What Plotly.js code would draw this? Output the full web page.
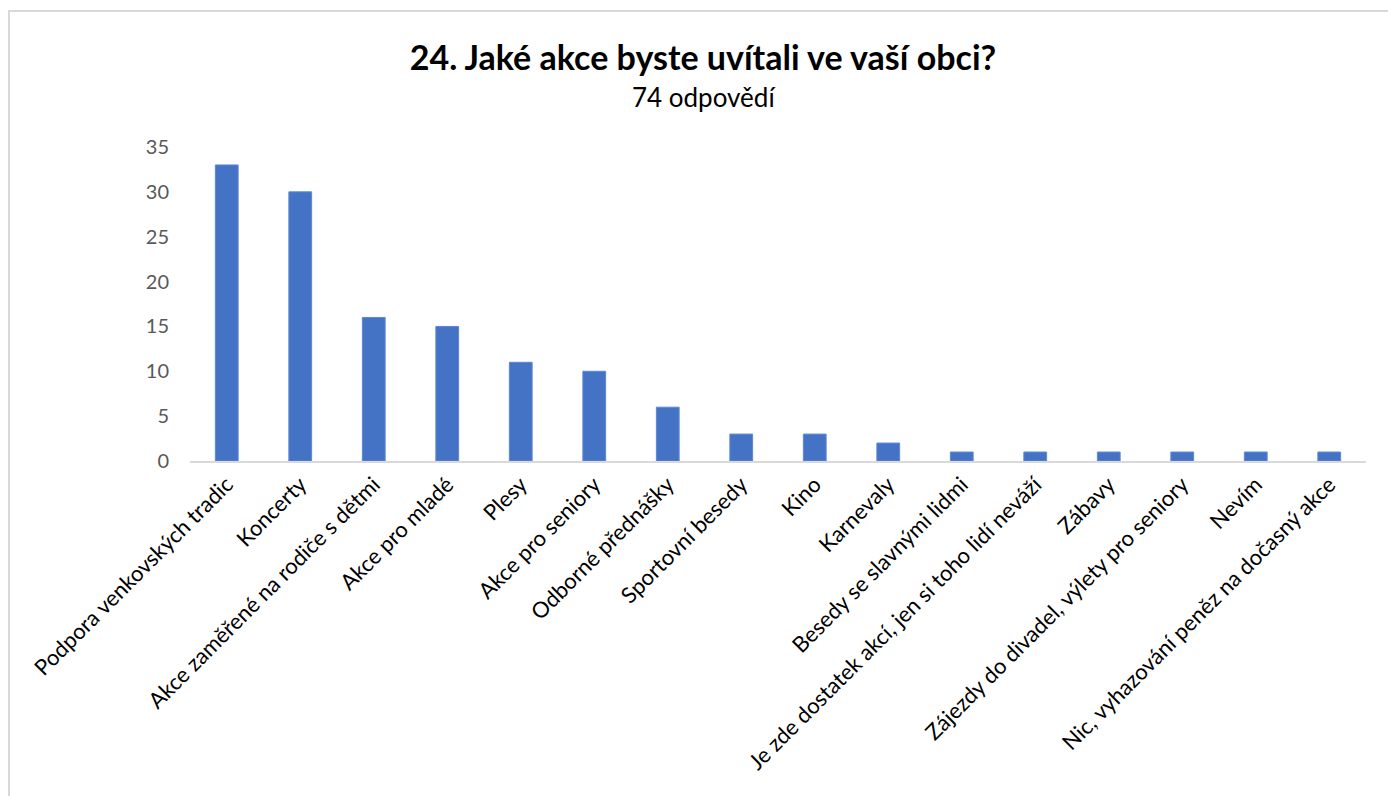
<!DOCTYPE html>
<html>
<head>
<meta charset="utf-8">
<script src="https://cdn.plot.ly/plotly-3.0.1.min.js"></script>
<style>html,body{margin:0;padding:0;background:#fff;}#chart{width:1388px;height:796px;}</style>
</head>
<body>
<div id="chart"></div>
<script>
const categories = [
  "Podpora venkovských tradic",
  "Koncerty",
  "Akce zaměřené na rodiče s dětmi",
  "Akce pro mladé",
  "Plesy",
  "Akce pro seniory",
  "Odborné přednášky",
  "Sportovní besedy",
  "Kino",
  "Karnevaly",
  "Besedy se slavnými lidmi",
  "Je zde dostatek akcí, jen si toho lidí neváží",
  "Zábavy",
  "Zájezdy do divadel, výlety pro seniory",
  "Nevím",
  "Nic, vyhazování peněz na dočasný akce"
];
const counts = [33, 30, 16, 15, 11, 10, 6, 3, 3, 2, 1, 1, 1, 1, 1, 1];
const yTicks = [0, 5, 10, 15, 20, 25, 30, 35];
const titleText = "24. Jaké akce byste uvítali ve vaší obci?";
const subtitleText = "74 odpovědí";

const W = 1388, H = 796;
const mL = 190, mR = 22, mT = 147, mB = 335;
const pw = W - mL - mR, ph = H - mT - mB;
const px = v => (v - mL) / pw;
const py = v => (H - mB - v) / ph;

const trace = {
  type: 'bar',
  x: categories,
  y: counts,
  marker: {color: '#4472C4', line: {color: '#5B87D6', width: 1}},
  hoverinfo: 'x+y'
};

const layout = {
  width: W, height: H,
  margin: {l: mL, r: mR, t: mT, b: mB, pad: 0},
  paper_bgcolor: '#ffffff',
  plot_bgcolor: '#ffffff',
  bargap: 0.69,
  showlegend: false,
  font: {family: 'Lato, "Open Sans", sans-serif', color: '#000000'},
  title: {
    text: '<b>' + titleText + '</b>',
    font: {family: 'Lato, sans-serif', size: 34, color: '#000000'},
    xref: 'container', x: 703 / W, xanchor: 'center',
    yref: 'container', y: 1 - 58 / H, yanchor: 'middle'
  },
  annotations: [{
    text: subtitleText,
    xref: 'paper', yref: 'paper',
    x: px(703), y: py(97),
    xanchor: 'center', yanchor: 'middle',
    showarrow: false,
    font: {family: 'Lato, sans-serif', size: 26, color: '#000000'}
  }],
  xaxis: {
    type: 'category',
    tickangle: -45,
    tickfont: {family: 'Lato, sans-serif', size: 22, color: '#000000'},
    showline: true, linecolor: '#d9d9d9', linewidth: 2,
    showgrid: false, zeroline: false,
    ticks: '', automargin: false
  },
  yaxis: {
    range: [0, 35],
    tickvals: yTicks,
    tickfont: {family: 'Lato, sans-serif', size: 20, color: '#595959'},
    showline: false, showgrid: false, zeroline: false,
    ticks: '', ticklabelstandoff: 20, automargin: false
  },
  shapes: [{
    type: 'rect', xref: 'paper', yref: 'paper',
    x0: px(9), x1: px(1420), y0: py(11), y1: py(830),
    line: {color: '#d9d9d9', width: 2}, fillcolor: 'rgba(0,0,0,0)', layer: 'below'
  }]
};

Plotly.newPlot('chart', [trace], layout, {displayModeBar: false, staticPlot: true});
</script>
</body>
</html>
